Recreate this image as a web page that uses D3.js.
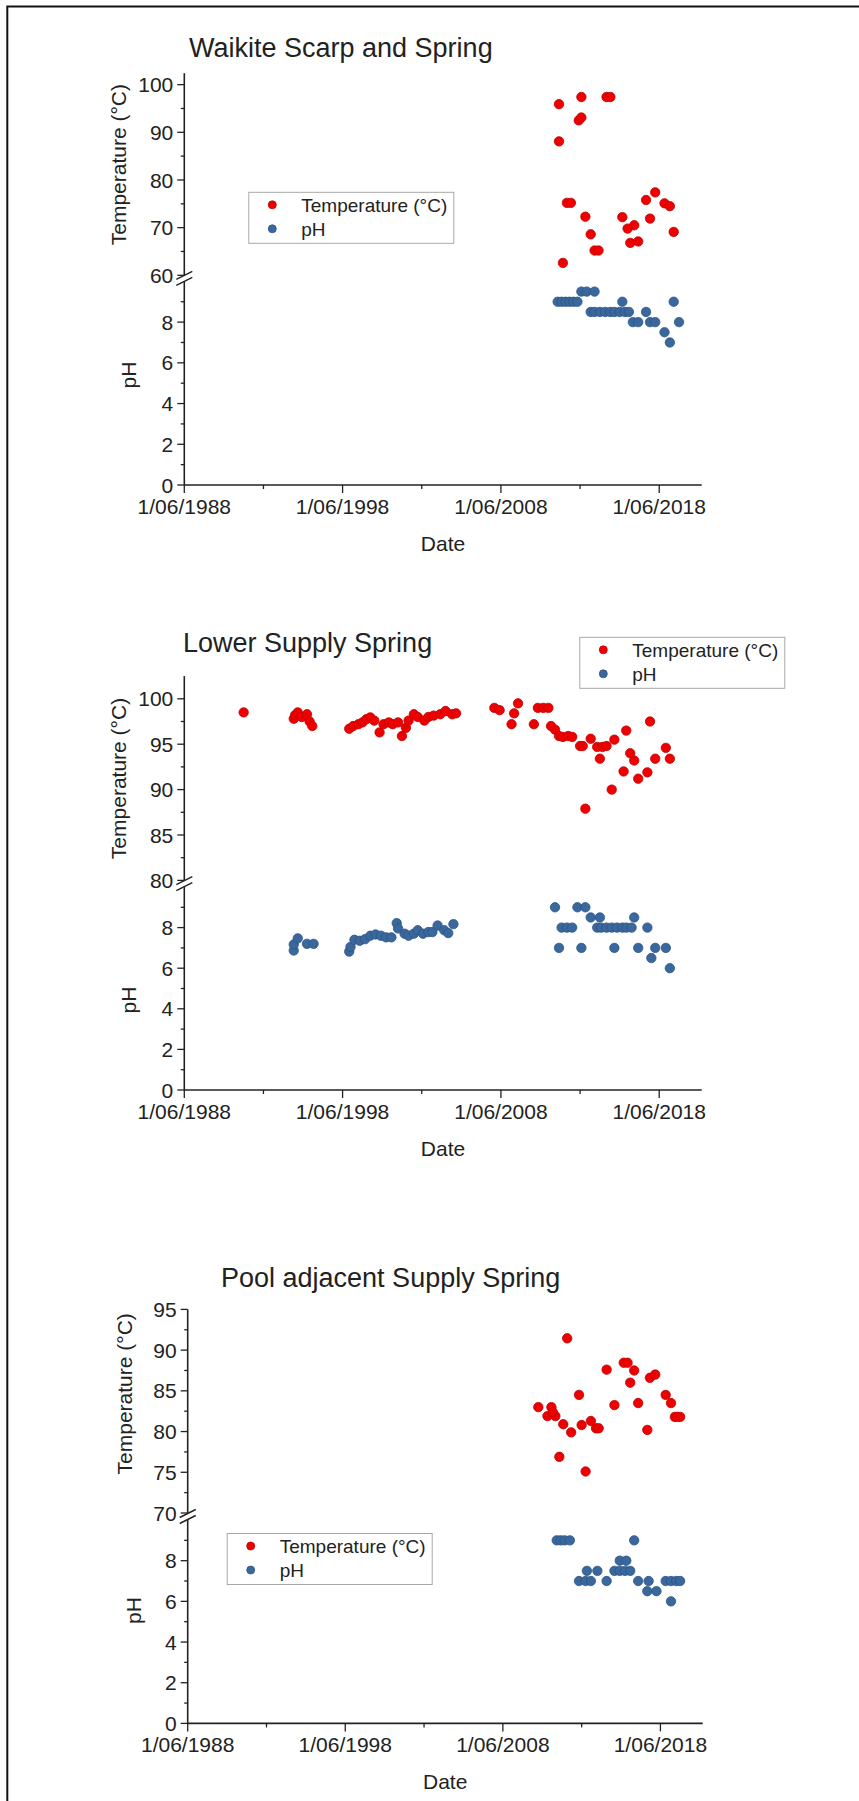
<!DOCTYPE html>
<html>
<head>
<meta charset="utf-8">
<script src="https://cdn.jsdelivr.net/npm/d3@7"></script>
<style>
  html, body { margin: 0; padding: 0; background: #fff; }
  svg { display: block; font-family: Arial, "Liberation Sans", sans-serif; }
</style>
</head>
<body>
<svg id="chart" width="859" height="1801"></svg>
<script>
// ---- Data: [sample month, value] ----
const waikiteTemperature = [
  ["2012-02", 95.9], ["2012-02", 88.1], ["2013-07", 97.4], ["2013-05", 92.5], ["2013-07", 93.1],
  ["2015-02", 97.4], ["2015-05", 97.4], ["2012-08", 75.2], ["2012-11", 75.2], ["2012-05", 62.6],
  ["2013-10", 72.3], ["2014-02", 68.6], ["2014-05", 65.2], ["2014-08", 65.2], ["2016-02", 72.2],
  ["2016-06", 69.8], ["2016-11", 70.5], ["2016-08", 66.8], ["2017-02", 67.1], ["2017-08", 75.8],
  ["2018-03", 77.4], ["2017-11", 71.9], ["2018-10", 75.1], ["2019-02", 74.5], ["2019-05", 69.1]
];
const waikitePH = [
  ["2012-01", 9.0], ["2012-04", 9.0], ["2012-07", 9.0], ["2012-10", 9.0], ["2013-01", 9.0], ["2013-04", 9.0],
  ["2013-07", 9.5], ["2013-11", 9.5], ["2014-05", 9.5], ["2016-02", 9.0], ["2019-05", 9.0],
  ["2014-02", 8.5], ["2014-05", 8.5], ["2014-09", 8.5], ["2015-01", 8.5], ["2015-05", 8.5],
  ["2015-08", 8.5], ["2015-12", 8.5], ["2016-04", 8.5], ["2016-07", 8.5], ["2017-08", 8.5],
  ["2016-10", 8.0], ["2017-02", 8.0], ["2017-11", 8.0], ["2018-03", 8.0], ["2019-09", 8.0],
  ["2018-10", 7.5], ["2019-02", 7.0]
];

const lowerSupplyTemperature = [
  ["1992-03", 98.5],
  ["1995-05", 97.8], ["1995-06", 98.2], ["1995-08", 98.5], ["1995-11", 98.0], ["1996-03", 98.3],
  ["1996-05", 97.5], ["1996-07", 97.0],
  ["1998-11", 96.7], ["1999-02", 97.0], ["1999-06", 97.2], ["1999-09", 97.4], ["1999-12", 97.75],
  ["2000-03", 97.95], ["2000-06", 97.6], ["2000-10", 96.3], ["2001-01", 97.2], ["2001-05", 97.4],
  ["2001-08", 97.2], ["2001-12", 97.4], ["2002-03", 95.9], ["2002-06", 96.8], ["2002-08", 97.6],
  ["2002-12", 98.3], ["2003-03", 98.0], ["2003-08", 97.6], ["2003-11", 98.0], ["2004-03", 98.15],
  ["2004-08", 98.3], ["2004-12", 98.65], ["2005-05", 98.3], ["2005-08", 98.4],
  ["2008-01", 99.0], ["2008-05", 98.75], ["2009-07", 99.5], ["2009-04", 98.4], ["2009-02", 97.2],
  ["2010-07", 97.2], ["2010-10", 99.0], ["2011-02", 99.0], ["2011-06", 99.0], ["2011-08", 97.0],
  ["2011-11", 96.6], ["2012-02", 95.9], ["2012-05", 95.8], ["2012-09", 95.9], ["2012-12", 95.8],
  ["2013-06", 94.8], ["2013-08", 94.8], ["2013-10", 87.9], ["2014-02", 95.6], ["2014-07", 94.7],
  ["2014-11", 94.7], ["2015-02", 94.8], ["2014-09", 93.4], ["2015-06", 90.0], ["2015-08", 95.5],
  ["2016-03", 92.0], ["2016-05", 96.5], ["2016-08", 94.0], ["2016-11", 93.2], ["2017-02", 91.2],
  ["2017-09", 91.9], ["2017-11", 97.5], ["2018-03", 93.4], ["2018-11", 94.6], ["2019-02", 93.4]
];
const lowerSupplyPH = [
  ["1995-05", 6.87], ["1995-05", 7.17], ["1995-08", 7.47], ["1996-03", 7.2], ["1996-08", 7.2],
  ["1998-11", 6.82], ["1998-12", 7.05], ["1999-03", 7.4], ["1999-07", 7.35], ["1999-11", 7.43],
  ["2000-03", 7.6], ["2000-07", 7.66], ["2000-11", 7.6], ["2001-03", 7.52], ["2001-07", 7.52],
  ["2001-11", 8.22], ["2001-12", 7.96], ["2002-05", 7.7], ["2002-08", 7.6], ["2002-12", 7.7],
  ["2003-03", 7.87], ["2003-07", 7.7], ["2003-11", 7.78], ["2004-02", 7.78], ["2004-06", 8.1],
  ["2004-11", 7.87], ["2005-02", 7.73], ["2005-06", 8.17],
  ["2011-11", 9.0], ["2013-04", 9.0], ["2013-10", 9.0],
  ["2012-04", 8.0], ["2012-08", 8.0], ["2012-12", 8.0],
  ["2012-02", 7.0], ["2013-07", 7.0],
  ["2014-02", 8.5], ["2014-09", 8.5],
  ["2014-07", 8.0], ["2014-10", 8.0], ["2015-02", 8.0], ["2015-06", 8.0], ["2015-10", 8.0],
  ["2016-02", 8.0], ["2016-05", 8.0], ["2016-09", 8.0],
  ["2015-08", 7.0], ["2016-11", 8.5], ["2017-02", 7.0], ["2017-09", 8.0], ["2017-12", 6.5],
  ["2018-03", 7.0], ["2018-11", 7.0], ["2019-02", 6.0]
];

const poolAdjacentTemperature = [
  ["2012-07", 91.45], ["2015-01", 87.6], ["2016-02", 88.45], ["2016-05", 88.45], ["2016-10", 87.5],
  ["2016-07", 86.0], ["2017-10", 86.6], ["2018-02", 87.0], ["2013-04", 84.5], ["2018-10", 84.5],
  ["2019-02", 83.5], ["2010-09", 83.0], ["2011-07", 83.0], ["2011-04", 81.9], ["2011-10", 81.9],
  ["2011-08", 82.4], ["2012-04", 80.9], ["2012-10", 79.9], ["2013-06", 80.8], ["2014-01", 81.3],
  ["2014-05", 80.4], ["2014-07", 80.4], ["2015-07", 83.25], ["2017-01", 83.5], ["2017-08", 80.2],
  ["2019-05", 81.8], ["2019-07", 81.8], ["2019-09", 81.8], ["2012-01", 76.9], ["2013-09", 75.1]
];
const poolAdjacentPH = [
  ["2011-11", 9.0], ["2012-02", 9.0], ["2012-05", 9.0], ["2012-09", 9.0], ["2016-10", 9.0],
  ["2015-11", 8.0], ["2016-04", 8.0],
  ["2013-10", 7.5], ["2014-06", 7.5], ["2015-07", 7.5], ["2015-11", 7.5], ["2016-03", 7.5], ["2016-07", 7.5],
  ["2013-04", 7.0], ["2013-09", 7.0], ["2014-01", 7.0], ["2015-01", 7.0], ["2017-01", 7.0],
  ["2017-09", 7.0], ["2018-10", 7.0], ["2019-02", 7.0], ["2019-06", 7.0], ["2019-09", 7.0],
  ["2017-08", 6.5], ["2018-03", 6.5], ["2019-02", 6.0]
];

// ---- Axis ticks ----
const dateMajorTicks = ["1988-06-01", "1998-06-01", "2008-06-01", "2018-06-01"];
const dateMinorTicks = ["1993-06-01", "2003-06-01", "2013-06-01"];
const phMajorTicks = [0, 2, 4, 6, 8];
const phMinorTicks = [1, 3, 5, 7, 9];
const waikiteTempTicks = [60, 70, 80, 90, 100];
const waikiteTempMinor = [65, 75, 85, 95];
const lowerTempTicks = [80, 85, 90, 95, 100];
const lowerTempMinor = [82.5, 87.5, 92.5, 97.5];
const poolTempTicks = [70, 75, 80, 85, 90, 95];
const poolTempMinor = [72.5, 77.5, 82.5, 87.5, 92.5];

const seriesNames = ["Temperature (\u00B0C)", "pH"];
const colors = { temp: "#ef0000", tempEdge: "#c00000", ph: "#3a679c", phEdge: "#2c5586" };
const ink = "#222";

const parseMonth = d3.timeParse("%Y-%m");
const parseDay = d3.timeParse("%Y-%m-%d");
const dateLabel = d3.timeFormat("%-d/%m/%Y");
const dateStart = parseDay("1988-06-01");
const dateEnd = parseDay("2021-02-05");

// ---- Panel layout ----
const panels = [
  {
    title: "Waikite Scarp and Spring", titleX: 189, titleY: 57,
    x0: 184.3, x1: 701.7, top: 73.2, tempBottom: 275.3, phTop: 281.4, bottom: 485,
    tempDomain: [60, 102.4], tempTicks: waikiteTempTicks, tempMinor: waikiteTempMinor,
    temp: waikiteTemperature, ph: waikitePH,
    legend: [248.3, 191.8], tempLabel: [118.3, 164.6], phLabel: [128.3, 375]
  },
  {
    title: "Lower Supply Spring", titleX: 183, titleY: 652,
    x0: 184.3, x1: 701.7, top: 676.1, tempBottom: 880.4, phTop: 887, bottom: 1090,
    tempDomain: [80, 102.5], tempTicks: lowerTempTicks, tempMinor: lowerTempMinor,
    temp: lowerSupplyTemperature, ph: lowerSupplyPH,
    legend: [579.3, 636.8], tempLabel: [118.3, 778.5], phLabel: [128.3, 1000]
  },
  {
    title: "Pool adjacent Supply Spring", titleX: 221, titleY: 1287,
    x0: 187.7, x1: 702.7, top: 1309.4, tempBottom: 1513, phTop: 1520, bottom: 1723.4,
    tempDomain: [70, 95], tempTicks: poolTempTicks, tempMinor: poolTempMinor,
    temp: poolAdjacentTemperature, ph: poolAdjacentPH,
    legend: [226.7, 1533], tempLabel: [125, 1393.8], phLabel: [133.3, 1610.5]
  }
];

const svg = d3.select("#chart");
svg.append("rect").attr("width", 859).attr("height", 1801).attr("fill", "#fff");

// page frame (top and left edges)
svg.append("path")
  .attr("d", "M7.3,1801 L7.3,6.4 L859,6.4")
  .attr("fill", "none").attr("stroke", "#111").attr("stroke-width", 2);

function drawPanel(p) {
  const g = svg.append("g");
  const x = d3.scaleTime().domain([dateStart, dateEnd]).range([p.x0, p.x1]);
  const yT = d3.scaleLinear().domain(p.tempDomain).range([p.tempBottom, p.top]);
  const yP = d3.scaleLinear().domain([0, 10]).range([p.bottom, p.phTop]);
  const brk = (p.tempBottom + p.phTop) / 2;

  // title
  g.append("text").attr("x", p.titleX).attr("y", p.titleY)
    .attr("font-size", 27).attr("fill", ink).text(p.title);

  // y axis line, split at the break
  g.append("line").attr("x1", p.x0).attr("x2", p.x0).attr("y1", p.top).attr("y2", brk - 3)
    .attr("stroke", ink).attr("stroke-width", 1.6);
  g.append("line").attr("x1", p.x0).attr("x2", p.x0).attr("y1", brk + 3).attr("y2", p.bottom)
    .attr("stroke", ink).attr("stroke-width", 1.6);
  // break marks
  [-3, 3].forEach(off => {
    g.append("line")
      .attr("x1", p.x0 - 8).attr("y1", brk + off + 4)
      .attr("x2", p.x0 + 8).attr("y2", brk + off - 4)
      .attr("stroke", ink).attr("stroke-width", 1.4);
  });

  // x axis line
  g.append("line").attr("x1", p.x0).attr("x2", p.x1).attr("y1", p.bottom).attr("y2", p.bottom)
    .attr("stroke", ink).attr("stroke-width", 1.6);

  // y ticks (temperature)
  p.tempTicks.forEach(v => {
    const yy = yT(v);
    g.append("line").attr("x1", p.x0 - 7).attr("x2", p.x0).attr("y1", yy).attr("y2", yy)
      .attr("stroke", ink).attr("stroke-width", 1.3);
    g.append("text").attr("x", p.x0 - 11).attr("y", yy).attr("dy", "0.36em")
      .attr("text-anchor", "end").attr("font-size", 21).attr("fill", ink).text(v);
  });
  p.tempMinor.forEach(v => {
    const yy = yT(v);
    g.append("line").attr("x1", p.x0 - 3.5).attr("x2", p.x0).attr("y1", yy).attr("y2", yy)
      .attr("stroke", ink).attr("stroke-width", 1.3);
  });
  // y ticks (pH)
  phMajorTicks.forEach(v => {
    const yy = yP(v);
    g.append("line").attr("x1", p.x0 - 7).attr("x2", p.x0).attr("y1", yy).attr("y2", yy)
      .attr("stroke", ink).attr("stroke-width", 1.3);
    g.append("text").attr("x", p.x0 - 11).attr("y", yy).attr("dy", "0.36em")
      .attr("text-anchor", "end").attr("font-size", 21).attr("fill", ink).text(v);
  });
  phMinorTicks.forEach(v => {
    const yy = yP(v);
    g.append("line").attr("x1", p.x0 - 3.5).attr("x2", p.x0).attr("y1", yy).attr("y2", yy)
      .attr("stroke", ink).attr("stroke-width", 1.3);
  });

  // x ticks
  dateMajorTicks.map(parseDay).forEach(d => {
    const xx = x(d);
    g.append("line").attr("x1", xx).attr("x2", xx).attr("y1", p.bottom).attr("y2", p.bottom + 8)
      .attr("stroke", ink).attr("stroke-width", 1.3);
    g.append("text").attr("x", xx).attr("y", p.bottom + 29)
      .attr("text-anchor", "middle").attr("font-size", 21).attr("fill", ink).text(dateLabel(d));
  });
  dateMinorTicks.map(parseDay).forEach(d => {
    const xx = x(d);
    g.append("line").attr("x1", xx).attr("x2", xx).attr("y1", p.bottom).attr("y2", p.bottom + 4)
      .attr("stroke", ink).attr("stroke-width", 1.3);
  });

  // axis titles
  g.append("text").attr("x", (p.x0 + p.x1) / 2).attr("y", p.bottom + 66)
    .attr("text-anchor", "middle").attr("font-size", 21).attr("fill", ink).text("Date");
  g.append("text")
    .attr("transform", `translate(${p.tempLabel[0]},${p.tempLabel[1]}) rotate(-90)`)
    .attr("text-anchor", "middle").attr("dy", "0.35em")
    .attr("font-size", 21).attr("fill", ink).text(seriesNames[0]);
  g.append("text")
    .attr("transform", `translate(${p.phLabel[0]},${p.phLabel[1]}) rotate(-90)`)
    .attr("text-anchor", "middle").attr("dy", "0.35em")
    .attr("font-size", 21).attr("fill", ink).text(seriesNames[1]);

  // points
  g.append("g").selectAll("circle").data(p.ph).join("circle")
    .attr("cx", d => x(parseMonth(d[0]))).attr("cy", d => yP(d[1])).attr("r", 4.7)
    .attr("fill", colors.ph).attr("stroke", colors.phEdge).attr("stroke-width", 0.8);
  g.append("g").selectAll("circle").data(p.temp).join("circle")
    .attr("cx", d => x(parseMonth(d[0]))).attr("cy", d => yT(d[1])).attr("r", 4.7)
    .attr("fill", colors.temp).attr("stroke", colors.tempEdge).attr("stroke-width", 0.8);

  // legend
  const [lx, ly] = p.legend;
  const lg = g.append("g").attr("transform", `translate(${lx},${ly})`);
  lg.append("rect").attr("x", 0.5).attr("y", 0.5).attr("width", 205).attr("height", 51)
    .attr("fill", "#fff").attr("stroke", "#a8a8a8").attr("stroke-width", 1);
  [[colors.temp, colors.tempEdge, 13], [colors.ph, colors.phEdge, 37]].forEach((s, i) => {
    lg.append("circle").attr("cx", 24).attr("cy", s[2]).attr("r", 4)
      .attr("fill", s[0]).attr("stroke", s[1]).attr("stroke-width", 0.8);
    lg.append("text").attr("x", 53).attr("y", s[2]).attr("dy", "0.36em")
      .attr("font-size", 19).attr("fill", ink).text(seriesNames[i]);
  });
}

panels.forEach(drawPanel);
</script>
</body>
</html>
